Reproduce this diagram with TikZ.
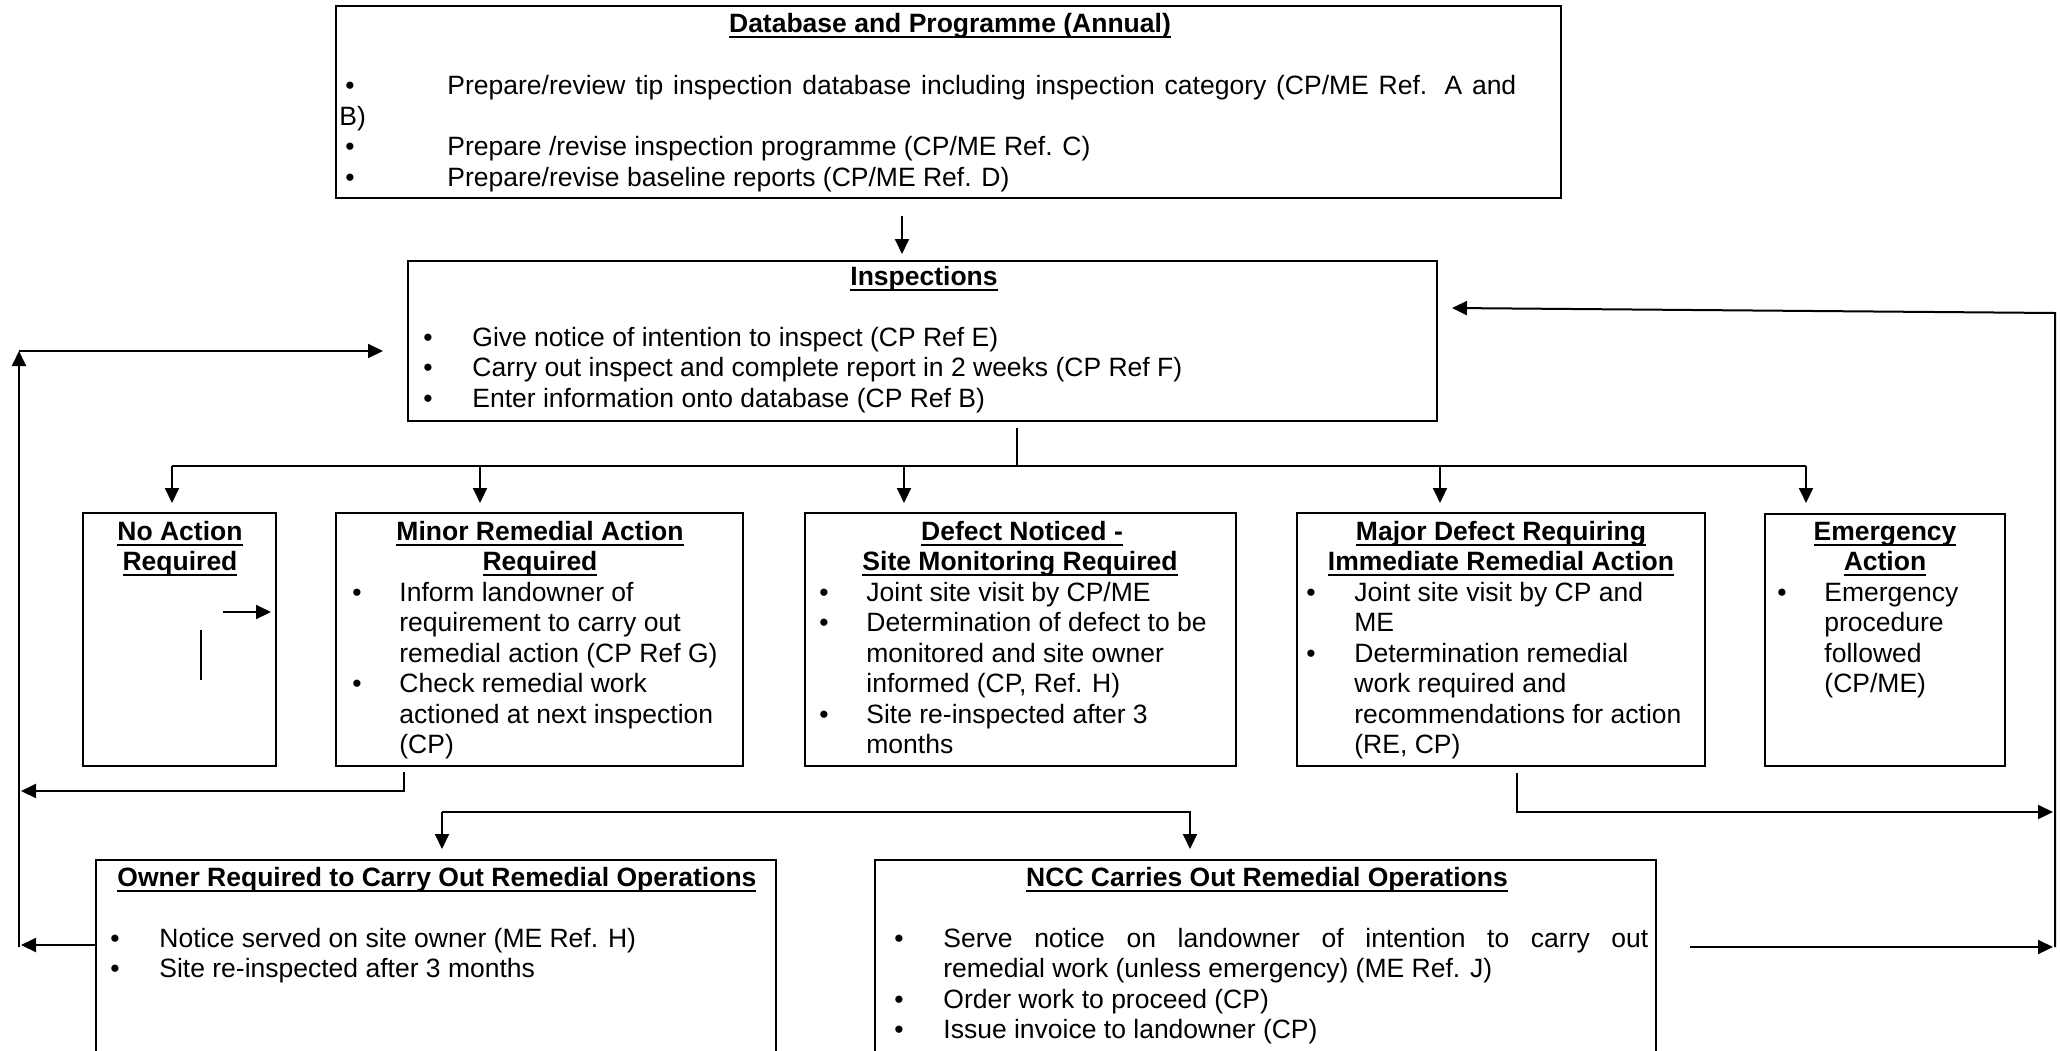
\documentclass[tikz,border=0pt]{standalone}
\usepackage{fontspec}
\setmainfont{Liberation Sans}
\usetikzlibrary{arrows.meta,fit}
\newsavebox\ttlbox
\newcommand\ttl[1]{\sbox\ttlbox{\bfseries #1}\rlap{\usebox\ttlbox}\rule[-2.75pt]{\wd\ttlbox}{1pt}}
\begin{document}
\begin{tikzpicture}[x=0.5pt,y=-0.5pt,
  font=\fontsize{13.25pt}{15.25pt}\selectfont,
  box/.style={draw, line width=1.4pt, inner sep=0pt},
  conn/.style={line width=1pt},
  arr/.style={conn, -{Triangle[length=7.5pt,width=7pt]}},
  txt/.style={inner sep=0pt, anchor=base west},
  ctr/.style={inner sep=0pt, anchor=base},
  bul/.style={inner sep=0pt, anchor=base}]
\useasboundingbox (0,0) rectangle (2060,1050);
\clip (0,0) rectangle (2060,1050);

% ---------- Database box
\node[box, fit={(336,6) (1561,198)}] (db) {};
\node[ctr] (dbT) at (950,32) {\ttl{Database and Programme (Annual)}};
\node[bul] (dbB1) at (350,94.5) {\textbullet};
\node[txt] (dbL1) at (447,94.5) {\makebox[534.5pt][s]{Prepare/review tip inspection database including inspection category (CP/ME Ref. A and}};
\node[txt] (dbL2) at (339,125) {B)};
\node[bul] (dbB3) at (350,155.5) {\textbullet};
\node[txt] (dbL3) at (447,155.5) {Prepare /revise inspection programme (CP/ME Ref. C)};
\node[bul] (dbB4) at (350,186) {\textbullet};
\node[txt] (dbL4) at (447,186) {Prepare/revise baseline reports (CP/ME Ref. D)};

% ---------- Inspections box
\node[box, fit={(408,261) (1437,421)}] (insp) {};
\node[ctr] (inT) at (924,285) {\ttl{Inspections}};
\node[bul] (inB1) at (428,346) {\textbullet};
\node[txt] (inL1) at (472,346) {Give notice of intention to inspect (CP Ref E)};
\node[bul] (inB2) at (428,376.5) {\textbullet};
\node[txt] (inL2) at (472,376.5) {Carry out inspect and complete report in 2 weeks (CP Ref F)};
\node[bul] (inB3) at (428,407) {\textbullet};
\node[txt] (inL3) at (472,407) {Enter information onto database (CP Ref B)};

% ---------- No Action box
\node[box, fit={(83,513) (276,766)}] (na) {};
\node[ctr] (naT1) at (180,540) {\ttl{No Action}};
\node[ctr] (naT2) at (180,570.5) {\ttl{Required}};

% ---------- Minor box
\node[box, fit={(336,513) (743,766)}] (mi) {};
\node[ctr] (miT1) at (540,540) {\ttl{Minor Remedial Action}};
\node[ctr] (miT2) at (540,570.5) {\ttl{Required}};
\node[bul] (miB1) at (357,601) {\textbullet};
\node[txt] (miL1) at (399,601) {Inform landowner of};
\node[txt] (miL2) at (399,631.5) {requirement to carry out};
\node[txt] (miL3) at (399,662) {remedial action (CP Ref G)};
\node[bul] (miB2) at (357,692.5) {\textbullet};
\node[txt] (miL4) at (399,692.5) {Check remedial work};
\node[txt] (miL5) at (399,723) {actioned at next inspection};
\node[txt] (miL6) at (399,753.5) {(CP)};

% ---------- Defect box
\node[box, fit={(805,513) (1236,766)}] (de) {};
\node[ctr] (deT1) at (1022,540) {\ttl{Defect Noticed -}};
\node[ctr] (deT2) at (1020,570.5) {\ttl{Site Monitoring Required}};
\node[bul] (deB1) at (824,601) {\textbullet};
\node[txt] (deL1) at (866,601) {Joint site visit by CP/ME};
\node[bul] (deB2) at (824,631.5) {\textbullet};
\node[txt] (deL2) at (866,631.5) {Determination of defect to be};
\node[txt] (deL3) at (866,662) {monitored and site owner};
\node[txt] (deL4) at (866,692.5) {informed (CP, Ref. H)};
\node[bul] (deB3) at (824,723) {\textbullet};
\node[txt] (deL5) at (866,723) {Site re-inspected after 3};
\node[txt] (deL6) at (866,753.5) {months};

% ---------- Major box
\node[box, fit={(1297,513) (1705,766)}] (ma) {};
\node[ctr] (maT1) at (1501,540) {\ttl{Major Defect Requiring}};
\node[ctr] (maT2) at (1501,570.5) {\ttl{Immediate Remedial Action}};
\node[bul] (maB1) at (1311,601) {\textbullet};
\node[txt] (maL1) at (1354,601) {Joint site visit by CP and};
\node[txt] (maL2) at (1354,631.5) {ME};
\node[bul] (maB2) at (1311,662) {\textbullet};
\node[txt] (maL3) at (1354,662) {Determination remedial};
\node[txt] (maL4) at (1354,692.5) {work required and};
\node[txt] (maL5) at (1354,723) {recommendations for action};
\node[txt] (maL6) at (1354,753.5) {(RE, CP)};

% ---------- Emergency box
\node[box, fit={(1765,514) (2005,766)}] (em) {};
\node[ctr] (emT1) at (1885,540) {\ttl{Emergency}};
\node[ctr] (emT2) at (1885,570.5) {\ttl{Action}};
\node[bul] (emB1) at (1782,601) {\textbullet};
\node[txt] (emL1) at (1824,601) {Emergency};
\node[txt] (emL2) at (1824,631.5) {procedure};
\node[txt] (emL3) at (1824,662) {followed};
\node[txt] (emL4) at (1824,692.5) {(CP/ME)};

% ---------- Owner box
\node[box, fit={(96,860) (776,1090)}] (ow) {};
\node[txt] (owT) at (117,886) {\ttl{Owner Required to Carry Out Remedial Operations}};
\node[bul] (owB1) at (115,947) {\textbullet};
\node[txt] (owL1) at (159,947) {Notice served on site owner (ME Ref. H)};
\node[bul] (owB2) at (115,977.5) {\textbullet};
\node[txt] (owL2) at (159,977.5) {Site re-inspected after 3 months};

% ---------- NCC box
\node[box, fit={(875,860) (1656,1090)}] (ncc) {};
\node[ctr] (ncT) at (1267,886) {\ttl{NCC Carries Out Remedial Operations}};
\node[bul] (ncB1) at (899,947) {\textbullet};
\node[txt] (ncL1) at (943,947) {\makebox[352.5pt][s]{Serve notice on landowner of intention to carry out}};
\node[txt] (ncL2) at (943,977.5) {remedial work (unless emergency) (ME Ref. J)};
\node[bul] (ncB3) at (899,1008) {\textbullet};
\node[txt] (ncL3) at (943,1008) {Order work to proceed (CP)};
\node[bul] (ncB4) at (899,1038.5) {\textbullet};
\node[txt] (ncL4) at (943,1038.5) {Issue invoice to landowner (CP)};

% ---------- connector coordinates
\coordinate (dbOut) at (902,216);
\coordinate (inIn) at (902,254);
\coordinate (inOut) at (1017,428);
\coordinate (brM) at (1017,466);
\coordinate (brL) at (172,466);
\coordinate (brR) at (1806,466);
\coordinate (naIn) at (172,503);
\coordinate (miIn) at (480,503);
\coordinate (deIn) at (904,503);
\coordinate (maIn) at (1440,503);
\coordinate (emIn) at (1806,503);
\coordinate (lBot) at (19,947);
\coordinate (lTop) at (19,351);
\coordinate (inL) at (383,351);
\coordinate (rBot) at (2055,947);
\coordinate (rTop) at (2055,313);
\coordinate (inR) at (1452,308);
\coordinate (miOut) at (404,772);
\coordinate (miC) at (404,791);
\coordinate (miL) at (21,791);
\coordinate (owOut) at (96,945);
\coordinate (owL) at (21,945);
\coordinate (dL) at (442,812);
\coordinate (dR) at (1190,812);
\coordinate (owIn) at (442,849);
\coordinate (ncIn) at (1190,849);
\coordinate (maOut) at (1517,773);
\coordinate (maC) at (1517,812);
\coordinate (maR) at (2053,812);
\coordinate (ncOut) at (1690,947);
\coordinate (ncR) at (2053,947);
\coordinate (naA1) at (223,612);
\coordinate (naA2) at (271,612);
\coordinate (naV1) at (201,630);
\coordinate (naV2) at (201,680);

% ---------- connectors
\draw[arr] (dbOut) -- (inIn);
\draw[conn] (inOut) -- (brM);
\draw[conn] (brL) -- (brR);
\draw[arr] (brL) -- (naIn);
\draw[arr] (miIn |- brM) -- (miIn);
\draw[arr] (deIn |- brM) -- (deIn);
\draw[arr] (maIn |- brM) -- (maIn);
\draw[arr] (brR) -- (emIn);
\draw[arr] (lBot) -- (lTop);
\draw[arr] (lTop) -- (inL);
\draw[arr] (rBot) -- (rTop) -- (inR);
\draw[arr] (miOut) -- (miC) -- (miL);
\draw[arr] (owOut) -- (owL);
\draw[arr] (dL) -- (owIn);
\draw[arr] (dL) -- (dR) -- (ncIn);
\draw[arr] (maOut) -- (maC) -- (maR);
\draw[arr] (ncOut) -- (ncR);
\draw[arr] (naA1) -- (naA2);
\draw[conn] (naV1) -- (naV2);
\end{tikzpicture}
\end{document}
